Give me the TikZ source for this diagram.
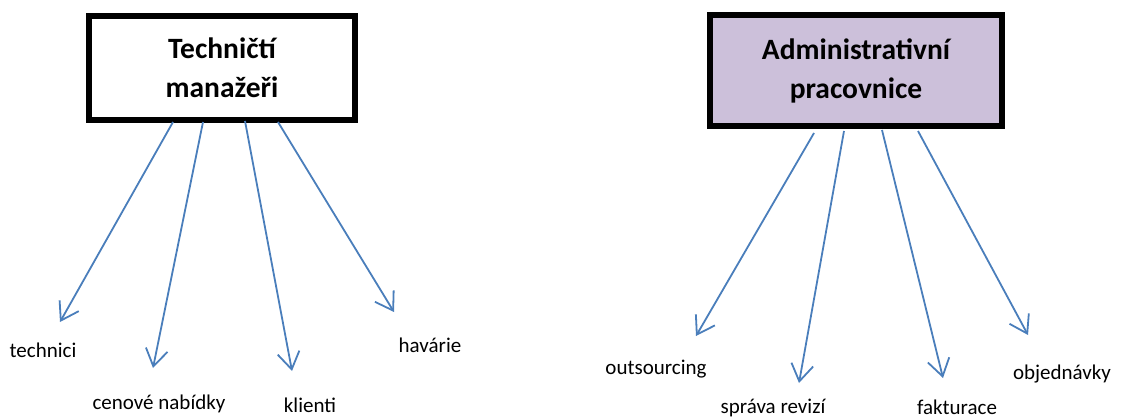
\documentclass[tikz,border=0pt]{standalone}
\usepackage{fontspec}
\setmainfont{Carlito}
\usetikzlibrary{arrows.meta}
\definecolor{linkblue}{RGB}{74,126,187}
\definecolor{boxlilac}{RGB}{204,192,218}
\tikzset{
  rolebox/.style={draw=black, line width=6pt, align=center, inner sep=0pt,
    font=\bfseries\fontsize{29.5}{39}\selectfont},
  duty/.style={font=\fontsize{21}{25}\selectfont, inner sep=0pt},
  link/.style={draw=linkblue, line width=1.8pt,
    -{Straight Barb[length=17pt, width=22pt, line width=1.8pt]}}
}
\begin{document}
\begin{tikzpicture}[x=1pt, y=-1pt]
\useasboundingbox (0,0) rectangle (1123,419);

% the two role boxes
\node[rolebox, minimum width=266pt, minimum height=104pt] (tm) at (222,68)
  {Techničtí\\manažeři};
\node[rolebox, fill=boxlilac, minimum width=292pt, minimum height=111pt] (ap) at (856,70.5)
  {Administrativní\\pracovnice};

% duties of the technical managers
\node[duty] (t1) at (43,350) {technici};
\node[duty] (t2) at (159,404) {cenové nabídky};
\node[duty] (t3) at (310,405) {klienti};
\node[duty] (t4) at (430,345) {havárie};

% duties of the administrative staff
\node[duty] (a1) at (656,369) {outsourcing};
\node[duty] (a2) at (773,408) {správa revizí};
\node[duty] (a3) at (957,407) {fakturace};
\node[duty] (a4) at (1062,374) {objednávky};

% arrow tips
\coordinate (tt1) at (60,322);
\coordinate (tt2) at (153,368);
\coordinate (tt3) at (292,371);
\coordinate (tt4) at (394,312);
\coordinate (at1) at (696,336);
\coordinate (at2) at (799,383);
\coordinate (at3) at (943,378);
\coordinate (at4) at (1028,335);

% arrows from the boxes
\draw[link] ([xshift=-49pt,yshift=1pt]tm.south) -- (tt1);
\draw[link] ([xshift=-19pt,yshift=1pt]tm.south) -- (tt2);
\draw[link] ([xshift=23pt,yshift=2pt]tm.south) -- (tt3);
\draw[link] ([xshift=56pt,yshift=1pt]tm.south) -- (tt4);
\draw[link] ([xshift=-42pt,yshift=-4pt]ap.south) -- (at1);
\draw[link] ([xshift=-12pt,yshift=-2pt]ap.south) -- (at2);
\draw[link] ([xshift=26pt,yshift=-1pt]ap.south) -- (at3);
\draw[link] ([xshift=62pt,yshift=-2pt]ap.south) -- (at4);
\end{tikzpicture}
\end{document}
